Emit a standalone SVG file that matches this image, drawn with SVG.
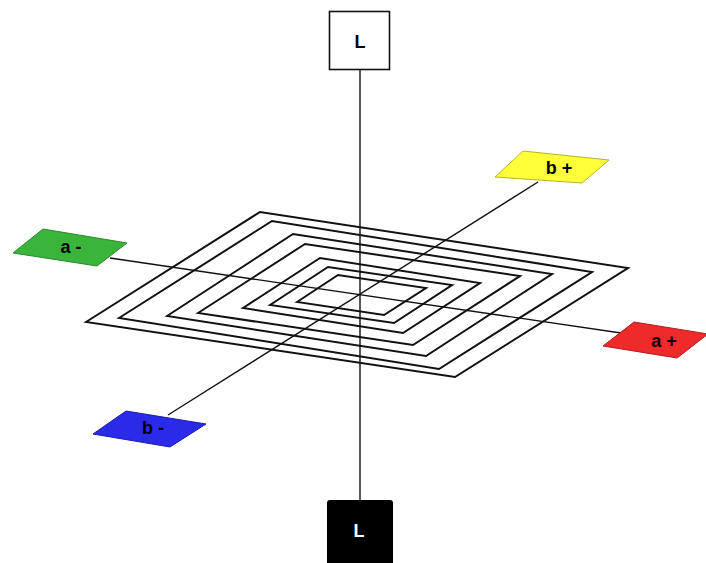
<svg xmlns="http://www.w3.org/2000/svg" width="706" height="563" viewBox="0 0 706 563">
<style>
.ring{fill:none;stroke:#111;stroke-width:2;stroke-linejoin:miter}
.axis{stroke:#111;stroke-width:1.4;fill:none}
.lbl{font-family:"Liberation Sans",Arial,sans-serif;font-weight:bold;font-size:18px;text-anchor:middle;dominant-baseline:central}
.tile{stroke-width:1;stroke-linejoin:miter}
</style>
<rect width="706" height="563" fill="#fff"/>
<g id="grid">
<polygon class="ring" points="86,322 260,212 628,268 455,377"/>
<polygon class="ring" points="119,318 272,221 592,272 439,369"/>
<polygon class="ring" points="167,316 293,234 552,274 426,356"/>
<polygon class="ring" points="198,313 305,244 520,276 413,345"/>
<polygon class="ring" points="243,308 320,258 480,283 403,333"/>
<polygon class="ring" points="270,305 328,267 452,285 394,323"/>
<polygon class="ring" points="297,302 338,275 426,288 384,315"/>
</g>
<g id="connectors">
<line class="axis" x1="360" y1="70" x2="360" y2="500"/>
<line class="axis" x1="110" y1="258" x2="621" y2="333"/>
<line class="axis" x1="168" y1="415" x2="538" y2="182"/>
</g>
<g id="L-top">
<rect x="329.5" y="11.5" width="60" height="58" fill="#fff" stroke="#111" stroke-width="1.6"/>
<text class="lbl" x="360" y="42">L</text>
</g>
<g id="L-bottom">
<rect x="327" y="500" width="66" height="70" rx="3" fill="#000"/>
<text class="lbl" x="359" y="531" fill="#fff">L</text>
</g>
<g id="a-minus">
<polygon class="tile" points="13,253 43,229 127,243 97,266" fill="#3BB43B" stroke="#2a8a2a"/>
<text class="lbl" x="71" y="247">a -</text>
</g>
<g id="a-plus">
<polygon class="tile" points="603,346 634,322 708,334 677,358" fill="#EE2A2A" stroke="#b01c1c"/>
<text class="lbl" x="664" y="341">a +</text>
</g>
<g id="b-plus">
<polygon class="tile" points="495,177 523,151 609,160 582,183" fill="#FFFF3A" stroke="#b5b52a"/>
<text class="lbl" x="559" y="168">b +</text>
</g>
<g id="b-minus">
<polygon class="tile" points="93,434 126,411 206,424 170,447" fill="#2A2AE8" stroke="#1c1ca8"/>
<text class="lbl" x="153" y="428">b -</text>
</g>
</svg>
